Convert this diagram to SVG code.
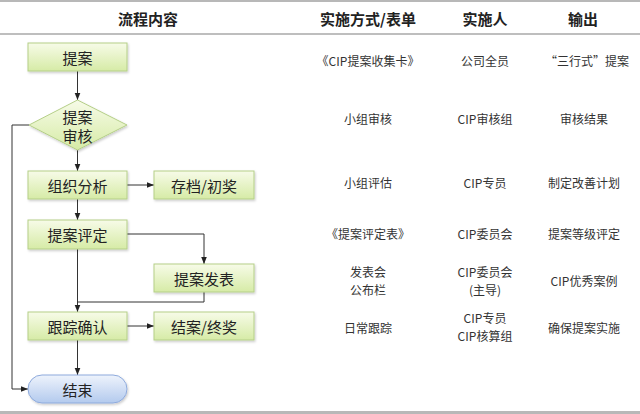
<svg xmlns="http://www.w3.org/2000/svg" width="640" height="414" viewBox="0 0 640 414">
<defs>
<linearGradient id="g" x1="0" y1="0" x2="0" y2="1"><stop offset="0" stop-color="#f7fbe8"/><stop offset="1" stop-color="#d6eba6"/></linearGradient>
<linearGradient id="b" x1="0" y1="0" x2="0" y2="1"><stop offset="0" stop-color="#eef3fc"/><stop offset="1" stop-color="#b3caee"/></linearGradient>
<marker id="a" viewBox="0 0 10 10" refX="10" refY="5" markerWidth="7" markerHeight="7" orient="auto-start-reverse"><path d="M0,1 L10,5 L0,9 z" fill="#222"/></marker>
<filter id="s" x="-10%" y="-10%" width="130%" height="140%"><feDropShadow dx="1" dy="1.5" stdDeviation="1" flood-color="#000" flood-opacity="0.2"/></filter>
</defs>
<style>
.n{fill:url(#g);stroke:#b5cf88;stroke-width:1;filter:url(#s)}
.e{fill:url(#b);stroke:#8eaadc;stroke-width:1;filter:url(#s)}
.t{font-family:"Noto Sans CJK SC","Liberation Sans",sans-serif;font-size:15px;fill:#222;text-anchor:middle;dominant-baseline:central}
.h{font-family:"Noto Sans CJK SC","Liberation Sans",sans-serif;font-size:15px;font-weight:bold;fill:#222;text-anchor:middle;dominant-baseline:central}
.c{font-family:"Noto Sans CJK SC","Liberation Sans",sans-serif;font-size:12px;fill:#333;text-anchor:middle;dominant-baseline:central}
.l{fill:none;stroke:#333;stroke-width:1}
</style>
<rect width="640" height="414" fill="#fff"/>
<line x1="0" y1="1" x2="640" y2="1" stroke="#b8b8b8" stroke-width="2"/>
<line x1="0" y1="34" x2="640" y2="34" stroke="#a8a8a8" stroke-width="1.5"/>
<line x1="0" y1="412.5" x2="640" y2="412.5" stroke="#b8b8b8" stroke-width="3"/>
<g id="header">
<text class="h" x="148" y="18">流程内容</text>
<text class="h" x="368" y="18">实施方式/表单</text>
<text class="h" x="485" y="18">实施人</text>
<text class="h" x="583" y="18">输出</text>
</g>
<g id="connectors">
<line class="l" x1="77.5" y1="71" x2="77.5" y2="100" marker-end="url(#a)"/>
<line class="l" x1="77.5" y1="150" x2="77.5" y2="171" marker-end="url(#a)"/>
<line class="l" x1="127" y1="185" x2="154" y2="185" marker-end="url(#a)"/>
<line class="l" x1="77.5" y1="199" x2="77.5" y2="220" marker-end="url(#a)"/>
<polyline class="l" points="127,234 204,234 204,264" marker-end="url(#a)"/>
<line class="l" x1="77.5" y1="249" x2="77.5" y2="312" marker-end="url(#a)"/>
<polyline class="l" points="204,292 204,302 77.5,302"/>
<line class="l" x1="127" y1="326" x2="154" y2="326" marker-end="url(#a)"/>
<line class="l" x1="77.5" y1="340" x2="77.5" y2="375" marker-end="url(#a)"/>
<polyline class="l" points="29,125 12,125 12,389 28,389" marker-end="url(#a)"/>
</g>
<g id="n1"><rect class="n" x="28" y="43" width="99" height="28"/><text class="t" x="77.5" y="57">提案</text></g>
<g id="n2"><polygon class="n" points="77.5,100 127,125 77.5,150 29,125"/><text class="t" x="77.5" y="116">提案</text><text class="t" x="77.5" y="135">审核</text></g>
<g id="n3"><rect class="n" x="28" y="171" width="99" height="28"/><text class="t" x="77.5" y="185">组织分析</text></g>
<g id="n4"><rect class="n" x="154" y="171" width="100" height="28"/><text class="t" x="204" y="185">存档/初奖</text></g>
<g id="n5"><rect class="n" x="28" y="220" width="99" height="29"/><text class="t" x="77.5" y="234.5">提案评定</text></g>
<g id="n6"><rect class="n" x="154" y="264" width="100" height="28"/><text class="t" x="204" y="278">提案发表</text></g>
<g id="n7"><rect class="n" x="28" y="312" width="99" height="28"/><text class="t" x="77.5" y="326">跟踪确认</text></g>
<g id="n8"><rect class="n" x="154" y="312" width="100" height="28"/><text class="t" x="204" y="326">结案/终奖</text></g>
<g id="n9"><rect class="e" x="28" y="375" width="99" height="28" rx="14"/><text class="t" x="77.5" y="389">结束</text></g>
<g id="table">
<text class="c" x="368" y="60">《CIP提案收集卡》</text>
<text class="c" x="485" y="60">公司全员</text>
<text class="c" x="587" y="60">“三行式”提案</text>
<text class="c" x="368" y="118">小组审核</text>
<text class="c" x="485" y="118">CIP审核组</text>
<text class="c" x="584" y="118">审核结果</text>
<text class="c" x="368" y="182">小组评估</text>
<text class="c" x="485" y="182">CIP专员</text>
<text class="c" x="584" y="182">制定改善计划</text>
<text class="c" x="368" y="233">《提案评定表》</text>
<text class="c" x="485" y="233">CIP委员会</text>
<text class="c" x="584" y="233">提案等级评定</text>
<text class="c" x="368" y="271">发表会</text>
<text class="c" x="368" y="289">公布栏</text>
<text class="c" x="485" y="271">CIP委员会</text>
<text class="c" x="485" y="289">(主导)</text>
<text class="c" x="584" y="280">CIP优秀案例</text>
<text class="c" x="368" y="327">日常跟踪</text>
<text class="c" x="485" y="317.5">CIP专员</text>
<text class="c" x="485" y="335.5">CIP核算组</text>
<text class="c" x="584" y="327">确保提案实施</text>
</g>
</svg>
